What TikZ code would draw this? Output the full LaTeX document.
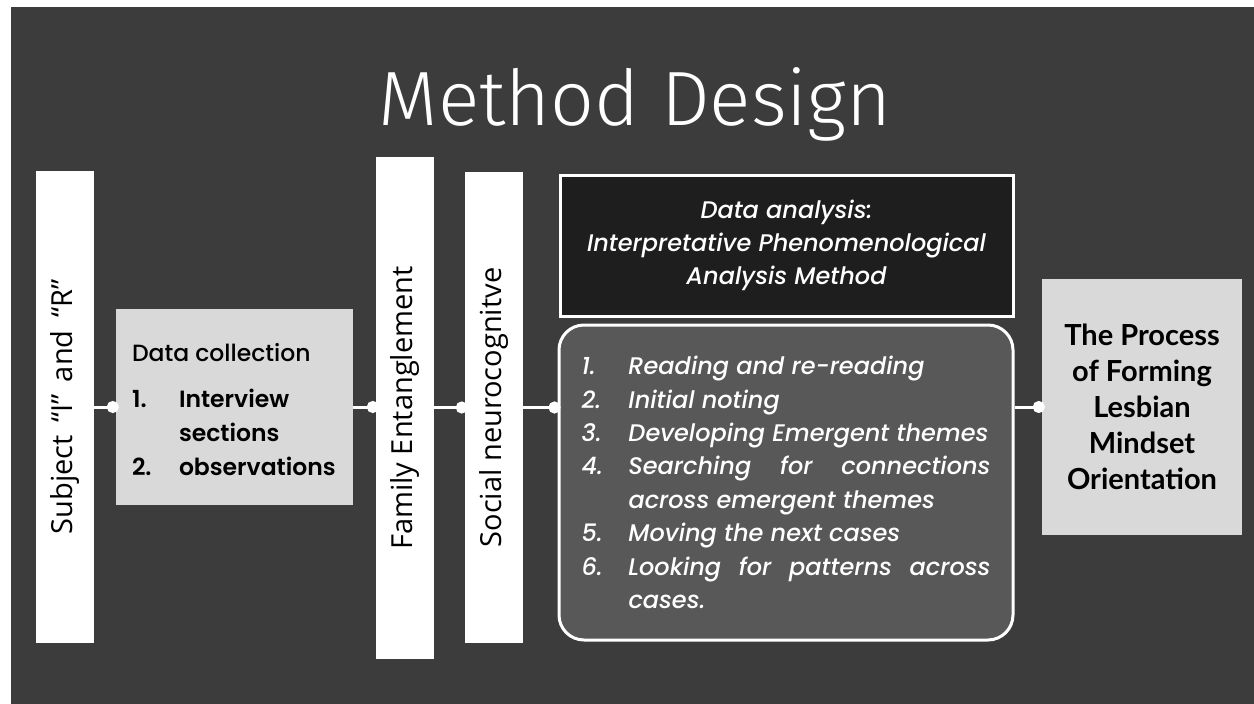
\documentclass[tikz,border=0pt]{standalone}
\usepackage{fontspec}
\setmainfont{Lato}
\newfontfamily\titlefont{Fira Sans Light}
\newfontfamily\sidefont{Open Sans}
\newfontfamily\boxfont{Poppins}[UprightFont=* Medium, ItalicFont=* Medium Italic, BoldFont=* SemiBold]
\usepackage{xcolor}
\usetikzlibrary{arrows.meta}
\definecolor{slate}{HTML}{3C3C3C}
\definecolor{paper}{HTML}{D9D9D9}
\definecolor{ink}{HTML}{1E1E1E}
\definecolor{stone}{HTML}{585858}

\begin{document}
\begin{tikzpicture}[x=1pt,y=-1pt]
\tikzstyle{bar} = [fill=white, text=black, inner sep=0pt, minimum width=58pt, font=\sidefont\fontsize{29}{32}\selectfont]
\tikzstyle{card} = [fill=paper, text=black, inner sep=0pt]
\tikzstyle{link} = [white, line width=3pt, -{Circle[length=12pt]}, shorten >=-3pt]
%
\useasboundingbox (0,0) rectangle (1254,704);
\fill[white] (0,0) rectangle (1254,704);
\fill[slate] (11,7) rectangle (1254,704);

	\node[anchor=base, text=white, font=\titlefont\fontsize{77}{84}\selectfont] (title) at (635,125) {Method Design};

	% left column
	\node[bar, minimum height=472pt] (subject) at (65,407) {\rotatebox{90}{Subject \,“I”\, and \,“R”}};
	\node[card, minimum width=237pt, minimum height=196pt] (collect) at (234.5,407) {%
		\begin{minipage}{205pt}\raggedright\boxfont\fontsize{23.5}{34}\selectfont
		\vspace*{6pt}Data collection\par\vspace{12pt}\bfseries
		\makebox[47pt][l]{1.}Interview\newline\hspace*{47pt}sections\par
		\makebox[47pt][l]{2.}observations
		\end{minipage}};
	\node[bar, minimum height=502pt] (family) at (405,408) {\rotatebox{90}{Family Entanglement}};
	\node[bar, minimum height=471pt] (social) at (494,407.5) {\rotatebox{90}{Social neurocognitve}};

	% analysis
	\node[draw=white, line width=3pt, fill=ink, text=white, minimum width=453pt, minimum height=141pt, inner sep=0pt,
		align=center, font=\boxfont\itshape\fontsize{24}{33}\selectfont] (analysis) at (786.5,245.5)
		{Data analysis:\\ Interpretative Phenomenological\\ Analysis Method};
	\node[draw=white, line width=3pt, fill=stone, text=white, rounded corners=25pt, minimum width=454pt, minimum height=315pt,
		inner sep=0pt] (steps) at (786,482.5) {%
		\begin{minipage}{409pt}\boxfont\itshape\fontsize{24}{33.4}\selectfont
		\everypar{\hangindent=47pt\hangafter=1}
		\makebox[47pt][l]{1.}Reading and re-reading\par
		\makebox[47pt][l]{2.}Initial noting\par
		\makebox[47pt][l]{3.}Developing Emergent themes\par
		\makebox[47pt][l]{4.}Searching for connections\linebreak across emergent themes\par
		\makebox[47pt][l]{5.}Moving the next cases\par
		\makebox[47pt][l]{6.}Looking for patterns across\linebreak cases.
		\end{minipage}};

	\node[card, minimum width=200pt, minimum height=256pt, align=center,
		font=\bfseries\fontsize{29}{36}\selectfont] (result) at (1142,407)
		{The Process\\ of Forming\\ Lesbian\\ Mindset\\ Orientation};

	% connectors
	\draw[link] (subject.east |- collect.west) -- (collect.west);
	\draw[link] (collect.east) -- (collect.east -| family.west);
	\draw[link] (family.east |- social.west) -- (social.west);
	\draw[link] (social.east) -- (social.east -| steps.west);
	\draw[link] (result.west -| steps.east) -- (result.west);
\end{tikzpicture}
\end{document}
